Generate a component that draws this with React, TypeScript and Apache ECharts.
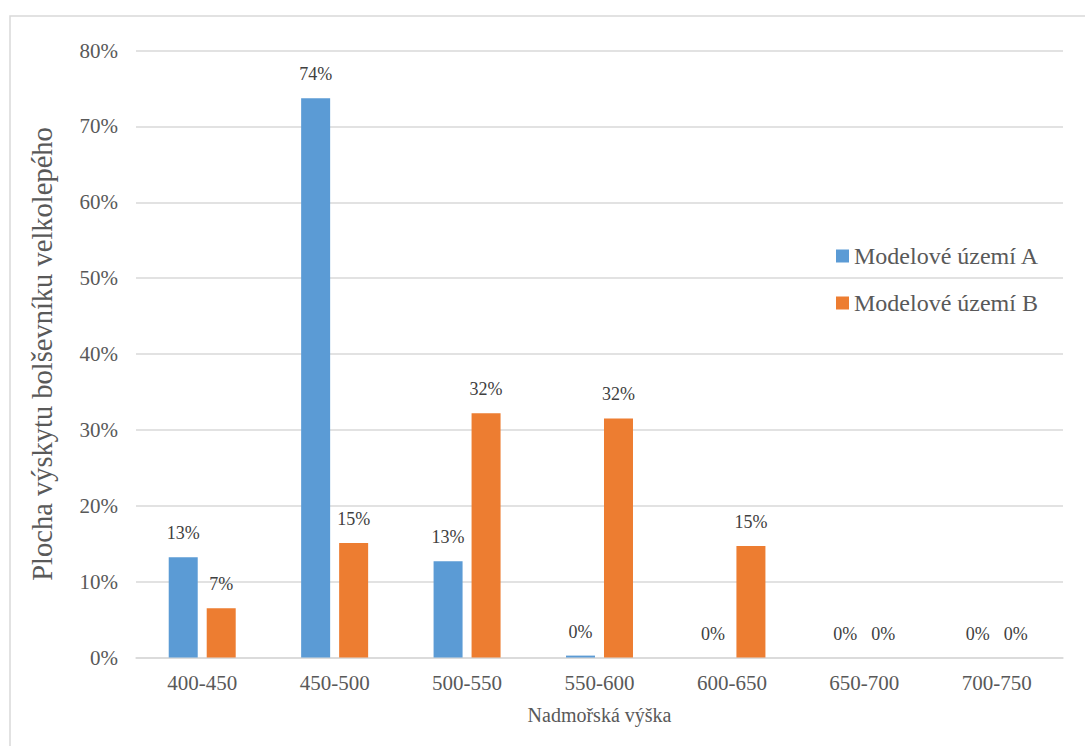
import React, { useEffect, useRef } from "react";
import * as echarts from "echarts";

// Altitude bands (m a.s.l.)
const categories = ["400-450", "450-500", "500-550", "550-600", "600-650", "650-700", "700-750"];
// Share of hogweed occurrence area per band, in percent
const seriesA = [13.2, 73.7, 12.7, 0.25, 0, 0, 0];
const seriesB = [6.5, 15.1, 32.2, 31.5, 14.7, 0, 0];
const seriesNames = ["Modelové území A", "Modelové území B"];
const yTicks = { min: 0, max: 80, interval: 10 };

const FONT = "Liberation Serif";

export default function App() {
  const ref = useRef<HTMLDivElement>(null);

  useEffect(() => {
    if (!ref.current) return;
    const chart = echarts.init(ref.current, undefined, { renderer: "svg" });

    const label = {
      show: true,
      position: "top" as const,
      distance: 15,
      fontFamily: FONT,
      fontSize: 18,
      color: "#404040",
      formatter: (p: any) => `${Math.round(p.value)}%`,
    };

    chart.setOption({
      animation: false,
      backgroundColor: "#ffffff",
      textStyle: { fontFamily: FONT },
      graphic: [
        {
          type: "rect",
          shape: { x: 10, y: 16, width: 1200, height: 900 },
          style: { fill: "none", stroke: "#d9d9d9", lineWidth: 1.5 },
          silent: true,
          z: -1,
        },
      ],
      grid: { left: 136, right: 22, top: 50.5, bottom: 88.5 },
      legend: {
        orient: "vertical",
        left: 831,
        top: 239,
        itemWidth: 13,
        itemHeight: 13,
        itemGap: 23,
        icon: "rect",
        data: seriesNames,
        textStyle: { fontFamily: FONT, fontSize: 24, color: "#595959" },
      },
      xAxis: {
        type: "category",
        data: categories,
        name: "Nadmořská výška",
        nameLocation: "middle",
        nameGap: 47,
        nameTextStyle: { fontFamily: FONT, fontSize: 20, color: "#595959" },
        axisLine: { lineStyle: { color: "#d9d9d9", width: 1.5 } },
        axisTick: { show: false },
        axisLabel: { fontFamily: FONT, fontSize: 21, color: "#595959", margin: 15 },
      },
      yAxis: {
        type: "value",
        min: yTicks.min,
        max: yTicks.max,
        interval: yTicks.interval,
        name: "Plocha výskytu bolševníku velkolepého",
        nameLocation: "middle",
        nameGap: 79,
        nameTextStyle: { fontFamily: FONT, fontSize: 28.5, color: "#595959" },
        axisLine: { show: false },
        axisTick: { show: false },
        splitLine: { lineStyle: { color: "#d9d9d9", width: 1.5 } },
        axisLabel: {
          fontFamily: FONT,
          fontSize: 21,
          color: "#595959",
          margin: 18,
          formatter: "{value}%",
        },
      },
      series: [
        {
          name: seriesNames[0],
          type: "bar",
          data: seriesA,
          barWidth: 29,
          barGap: "31%",
          itemStyle: { color: "#5b9bd5" },
          label,
        },
        {
          name: seriesNames[1],
          type: "bar",
          data: seriesB,
          barWidth: 29,
          barGap: "31%",
          itemStyle: { color: "#ed7d31" },
          label,
        },
      ],
    });

    return () => chart.dispose();
  }, []);

  return (
    <div
      ref={ref}
      style={{ position: "fixed", left: 0, top: 0, width: 1085, height: 746 }}
    />
  );
}
